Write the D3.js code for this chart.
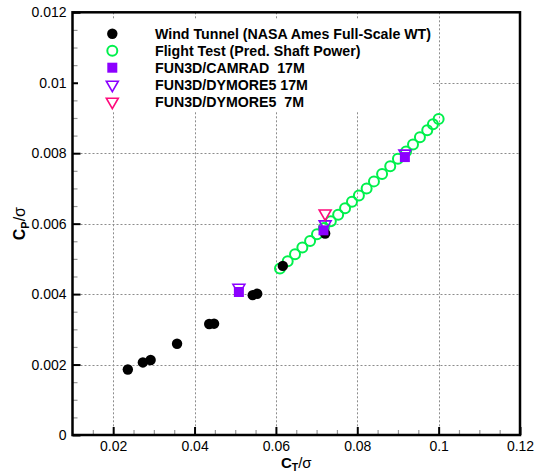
<!DOCTYPE html>
<html>
<head>
<meta charset="utf-8">
<script src="https://cdn.jsdelivr.net/npm/d3@7"></script>
<style>
  body { margin: 0; background: #fff; }
  svg { display: block; font-family: "Liberation Sans", Arial, Helvetica, sans-serif; }
</style>
</head>
<body>
<div class="container"></div>
<script>
// Wind tunnel (NASA Ames full-scale WT)
const windCT = [0.0236, 0.0273, 0.0292, 0.0357, 0.0436, 0.0448, 0.0543, 0.0554, 0.0617, 0.0721];
const windCP = [0.00186, 0.00206, 0.00213, 0.00259, 0.00315, 0.00316, 0.00397, 0.00401, 0.00480, 0.00572];

// Flight test (predicted shaft power)
const flightCT = [0.0610, 0.0629, 0.0647, 0.0665, 0.0684, 0.0701, 0.0718, 0.0735, 0.0753, 0.0770, 0.0787, 0.0804,
  0.0823, 0.0841, 0.0861, 0.0881, 0.0900, 0.0920, 0.0937, 0.0954, 0.0972, 0.0986, 0.1000];
const flightCP = [0.00473, 0.00493, 0.00513, 0.00532, 0.00551, 0.00570, 0.00588, 0.00607, 0.00625, 0.00644, 0.00662, 0.00680,
  0.00700, 0.00720, 0.00741, 0.00763, 0.00784, 0.00805, 0.00825, 0.00845, 0.00865, 0.00882, 0.00897];

// FUN3D/CAMRAD 17M
const camradCT = [0.0509, 0.0717, 0.0917];
const camradCP = [0.00406, 0.00581, 0.00789];

// FUN3D/DYMORE5 17M
const dym17CT = [0.0509, 0.0721, 0.0917];
const dym17CP = [0.00418, 0.00598, 0.00799];

// FUN3D/DYMORE5 7M
const dym7CT = [0.0721];
const dym7CP = [0.00629];

const legendLabels = [
  'Wind Tunnel (NASA Ames Full-Scale WT)',
  'Flight Test (Pred. Shaft Power)',
  'FUN3D/CAMRAD  17M',
  'FUN3D/DYMORE5 17M',
  'FUN3D/DYMORE5  7M'
];

const xTicks = [0.02, 0.04, 0.06, 0.08, 0.1, 0.12];
const yTicks = [0, 0.002, 0.004, 0.006, 0.008, 0.01, 0.012];

const w = 536,
    h = 472,
    pLeft = 72.5,
    pRight = 520,
    pTop = 12.3,
    pBottom = 435;

const green = '#00f04c',
    purple = '#8c00ff',
    pink = '#ff0a7c';

const svg = d3.select('.container')
  .append('svg')
  .attr('width', w)
  .attr('height', h);

const xScale = d3.scaleLinear().domain([0.01, 0.12]).range([pLeft, pRight]);
const yScale = d3.scaleLinear().domain([0, 0.012]).range([pBottom, pTop]);

const fmt = d => d === 0 ? '0' : d3.format('~g')(d);

// grid
const grid = svg.append('g')
  .attr('stroke', '#8c8c8c')
  .attr('stroke-width', 1)
  .attr('stroke-dasharray', '2,2');

grid.selectAll('.gx')
  .data(xTicks.filter(v => v < 0.12))
  .enter().append('line')
  .attr('x1', d => Math.round(xScale(d)) + 0.5)
  .attr('x2', d => Math.round(xScale(d)) + 0.5)
  .attr('y1', pTop)
  .attr('y2', pBottom);

grid.selectAll('.gy')
  .data(yTicks.filter(v => v > 0 && v < 0.012))
  .enter().append('line')
  .attr('y1', d => Math.round(yScale(d)) + 0.5)
  .attr('y2', d => Math.round(yScale(d)) + 0.5)
  .attr('x1', pLeft)
  .attr('x2', pRight);

// minor ticks
const xMinor = d3.range(0.015, 0.1201, 0.005).filter(v => Math.abs(v / 0.02 - Math.round(v / 0.02)) > 0.01);
const yMinor = d3.range(0.0005, 0.0120, 0.0005).filter(v => Math.abs(v / 0.002 - Math.round(v / 0.002)) > 0.01);

svg.append('g')
  .attr('transform', `translate(0, ${pBottom})`)
  .call(d3.axisBottom(xScale).tickValues(xMinor).tickSize(-5).tickFormat(''))
  .call(g => g.select('.domain').remove())
  .call(g => g.selectAll('line').attr('stroke', '#999').attr('stroke-width', 1.2));

svg.append('g')
  .attr('transform', `translate(${pLeft}, 0)`)
  .call(d3.axisLeft(yScale).tickValues(yMinor).tickSize(-5).tickFormat(''))
  .call(g => g.select('.domain').remove())
  .call(g => g.selectAll('line').attr('stroke', '#999').attr('stroke-width', 1.2));

// major axes
svg.append('g')
  .attr('id', 'x-axis')
  .attr('transform', `translate(0, ${pBottom})`)
  .call(d3.axisBottom(xScale).tickValues(xTicks).tickSize(-8).tickPadding(6).tickFormat(fmt))
  .call(g => g.select('.domain').remove())
  .call(g => g.selectAll('line').attr('stroke', '#000').attr('stroke-width', 2))
  .call(g => g.selectAll('text').attr('font-size', 14).attr('fill', '#000').attr('font-family', null));

svg.append('g')
  .attr('id', 'y-axis')
  .attr('transform', `translate(${pLeft}, 0)`)
  .call(d3.axisLeft(yScale).tickValues(yTicks).tickSize(-8).tickPadding(6).tickFormat(fmt))
  .call(g => g.select('.domain').remove())
  .call(g => g.selectAll('line').attr('stroke', '#000').attr('stroke-width', 2))
  .call(g => g.selectAll('text').attr('font-size', 14).attr('fill', '#000').attr('font-family', null));

// frame
svg.append('rect')
  .attr('x', pLeft)
  .attr('y', pTop)
  .attr('width', pRight - pLeft)
  .attr('height', pBottom - pTop)
  .attr('fill', 'none')
  .attr('stroke', '#000')
  .attr('stroke-width', 2.5);

// legend background
svg.append('rect')
  .attr('x', 78)
  .attr('y', 20)
  .attr('width', 355)
  .attr('height', 92)
  .attr('fill', '#fff');

const tri = d3.symbol().type(d3.symbolTriangle).size(62);

const marks = svg.append('g');

// flight test
marks.selectAll('.flight')
  .data(flightCT.map((v, i) => [v, flightCP[i]]))
  .enter().append('circle')
  .attr('cx', d => xScale(d[0]))
  .attr('cy', d => yScale(d[1]))
  .attr('r', 5)
  .attr('fill', 'none')
  .attr('stroke', green)
  .attr('stroke-width', 2);

// wind tunnel
marks.selectAll('.wind')
  .data(windCT.map((v, i) => [v, windCP[i]]))
  .enter().append('circle')
  .attr('cx', d => xScale(d[0]))
  .attr('cy', d => yScale(d[1]))
  .attr('r', 5.2)
  .attr('fill', '#000');

// camrad
marks.selectAll('.camrad')
  .data(camradCT.map((v, i) => [v, camradCP[i]]))
  .enter().append('rect')
  .attr('x', d => xScale(d[0]) - 5)
  .attr('y', d => yScale(d[1]) - 5)
  .attr('width', 10)
  .attr('height', 10)
  .attr('fill', purple);

// dymore5 17M
marks.selectAll('.dym17')
  .data(dym17CT.map((v, i) => [v, dym17CP[i]]))
  .enter().append('path')
  .attr('d', tri)
  .attr('transform', d => `translate(${xScale(d[0])}, ${yScale(d[1])}) rotate(180)`)
  .attr('fill', 'none')
  .attr('stroke', purple)
  .attr('stroke-width', 1.6);

// dymore5 7M
marks.selectAll('.dym7')
  .data(dym7CT.map((v, i) => [v, dym7CP[i]]))
  .enter().append('path')
  .attr('d', tri)
  .attr('transform', d => `translate(${xScale(d[0])}, ${yScale(d[1])}) rotate(180)`)
  .attr('fill', 'none')
  .attr('stroke', pink)
  .attr('stroke-width', 1.6);

// legend
const legend = svg.append('g');
const rowY = i => 33.7 + i * 17;
const symX = 112.3;

legend.append('circle').attr('cx', symX).attr('cy', rowY(0)).attr('r', 5.2).attr('fill', '#000');
legend.append('circle').attr('cx', symX).attr('cy', rowY(1)).attr('r', 5)
  .attr('fill', 'none').attr('stroke', green).attr('stroke-width', 2);
legend.append('rect').attr('x', symX - 5).attr('y', rowY(2) - 5).attr('width', 10).attr('height', 10).attr('fill', purple);
legend.append('path').attr('d', tri).attr('transform', `translate(${symX}, ${rowY(3)}) rotate(180)`)
  .attr('fill', 'none').attr('stroke', purple).attr('stroke-width', 1.6);
legend.append('path').attr('d', tri).attr('transform', `translate(${symX}, ${rowY(4)}) rotate(180)`)
  .attr('fill', 'none').attr('stroke', pink).attr('stroke-width', 1.6);

legend.selectAll('.lt')
  .data(legendLabels)
  .enter().append('text')
  .attr('x', 155)
  .attr('y', (d, i) => rowY(i) + 5.2)
  .attr('font-size', 14.2)
  .attr('font-weight', 'bold')
  .style('white-space', 'pre')
  .text(d => d);

// axis titles
const xt = svg.append('text')
  .attr('x', (pLeft + pRight) / 2)
  .attr('y', 468)
  .attr('text-anchor', 'middle')
  .attr('font-size', 15);
xt.append('tspan').attr('font-weight', 'bold').text('C');
xt.append('tspan').attr('font-weight', 'bold').attr('font-size', 10.5).attr('dy', 3).text('T');
xt.append('tspan').attr('dy', -3).text('/σ');

const yt = svg.append('text')
  .attr('transform', `translate(25, ${(pTop + pBottom) / 2}) rotate(-90)`)
  .attr('text-anchor', 'middle')
  .attr('font-size', 16);
yt.append('tspan').attr('font-weight', 'bold').text('C');
yt.append('tspan').attr('font-weight', 'bold').attr('font-size', 11).attr('dy', 4).text('P');
yt.append('tspan').attr('dy', -4).text('/σ');
</script>
</body>
</html>
